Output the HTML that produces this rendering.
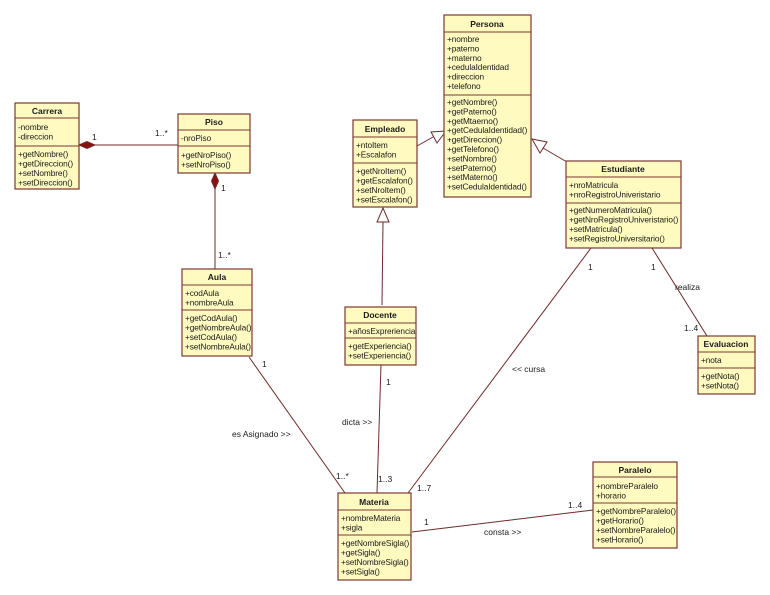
<!DOCTYPE html>
<html><head><meta charset="utf-8"><style>
body{margin:0;background:#fff;width:770px;height:595px;overflow:hidden}
svg{display:block}
text{font-family:"Liberation Sans",sans-serif;font-size:8.3px;fill:#1a1a1a;letter-spacing:-0.1px}
.t{font-weight:bold;font-size:8.5px;text-anchor:middle;letter-spacing:0}
.b{fill:#fffac0;stroke:#7a3a32;stroke-width:1.2}
.s{stroke:#7a3a32;stroke-width:1}
.l{stroke:#6e2a2a;stroke-width:1;fill:none}
.lb{font-size:8.5px;letter-spacing:0}
</style></head><body>
<svg width="770" height="595" viewBox="0 0 770 595">
<line class="l" x1="79" y1="145" x2="178" y2="145"/>
<polygon points="79,145 87,141.5 95,145 87,148.5" fill="#8b1010" stroke="#6e2a2a"/>
<line class="l" x1="215" y1="173" x2="215" y2="269"/>
<polygon points="215,173 218.5,181 215,189 211.5,181" fill="#8b1010" stroke="#6e2a2a"/>
<line class="l" x1="417" y1="146" x2="433" y2="137"/>
<polygon points="446,131 431,132 437,143" fill="#fff" stroke="#6e2a2a"/>
<line class="l" x1="567" y1="162" x2="543" y2="148"/>
<polygon points="532,139 547,142 540,153" fill="#fff" stroke="#6e2a2a"/>
<line class="l" x1="382" y1="305" x2="383" y2="222"/>
<polygon points="383,208 377,222 389,222" fill="#fff" stroke="#6e2a2a"/>
<line class="l" x1="381" y1="365" x2="377" y2="493"/>
<line class="l" x1="249" y1="357" x2="345" y2="493"/>
<line class="l" x1="591" y1="248" x2="408" y2="493"/>
<line class="l" x1="652" y1="248" x2="707" y2="336"/>
<line class="l" x1="412" y1="532" x2="593" y2="510"/>
<text class="lb" x="92" y="140">1</text>
<text class="lb" x="155" y="136">1..*</text>
<text class="lb" x="221" y="191">1</text>
<text class="lb" x="218" y="258">1..*</text>
<text class="lb" x="262" y="367">1</text>
<text class="lb" x="232" y="437">es Asignado &gt;&gt;</text>
<text class="lb" x="336" y="479">1..*</text>
<text class="lb" x="386" y="385">1</text>
<text class="lb" x="342" y="425">dicta &gt;&gt;</text>
<text class="lb" x="378" y="482">1..3</text>
<text class="lb" x="417" y="491">1..7</text>
<text class="lb" x="512" y="372">&lt;&lt; cursa</text>
<text class="lb" x="588" y="270">1</text>
<text class="lb" x="651" y="270">1</text>
<text class="lb" x="675" y="290">realiza</text>
<text class="lb" x="684" y="331">1..4</text>
<text class="lb" x="424" y="525">1</text>
<text class="lb" x="484" y="535">consta &gt;&gt;</text>
<text class="lb" x="568" y="508">1..4</text>

<rect class="b" x="15" y="103" width="64" height="86"/>
<line class="s" x1="15" y1="118" x2="79" y2="118"/><line class="s" x1="15" y1="146" x2="79" y2="146"/>
<text class="t" x="47" y="114">Carrera</text>
<text x="18" y="130">-nombre</text><text x="18" y="139.5">-direccion</text>
<text x="18" y="157">+getNombre()</text><text x="18" y="166.5">+getDireccion()</text><text x="18" y="176">+setNombre()</text><text x="18" y="185.5">+setDireccion()</text>
<rect class="b" x="178" y="114" width="72" height="59"/>
<line class="s" x1="178" y1="130" x2="250" y2="130"/><line class="s" x1="178" y1="146" x2="250" y2="146"/>
<text class="t" x="214" y="125">Piso</text>
<text x="181" y="141">-nroPiso</text>
<text x="181" y="158">+getNroPiso()</text><text x="181" y="167.5">+setNroPiso()</text>
<rect class="b" x="182" y="269" width="70" height="87"/>
<line class="s" x1="182" y1="285" x2="252" y2="285"/><line class="s" x1="182" y1="310" x2="252" y2="310"/>
<text class="t" x="217" y="280">Aula</text>
<text x="185" y="296">+codAula</text><text x="185" y="305.5">+nombreAula</text>
<text x="185" y="321">+getCodAula()</text><text x="185" y="330.5">+getNombreAula()</text><text x="185" y="340">+setCodAula()</text><text x="185" y="349.5">+setNombreAula()</text>
<rect class="b" x="444" y="15" width="87" height="182"/>
<line class="s" x1="444" y1="32" x2="531" y2="32"/><line class="s" x1="444" y1="95" x2="531" y2="95"/>
<text class="t" x="487" y="27">Persona</text>
<text x="447" y="42">+nombre</text><text x="447" y="51.4">+paterno</text><text x="447" y="60.8">+materno</text><text x="447" y="70.2">+cedulaIdentidad</text><text x="447" y="79.6">+direccion</text><text x="447" y="89">+telefono</text>
<text x="447" y="105">+getNombre()</text><text x="447" y="114.4">+getPaterno()</text><text x="447" y="123.8">+getMtaerno()</text><text x="447" y="133.2">+getCedulaIdentidad()</text><text x="447" y="142.6">+getDireccion()</text><text x="447" y="152">+getTelefono()</text><text x="447" y="161.4">+setNombre()</text><text x="447" y="170.8">+setPaterno()</text><text x="447" y="180.2">+setMaterno()</text><text x="447" y="189.6">+setCedulaIdentidad()</text>
<rect class="b" x="353" y="120" width="64" height="87"/>
<line class="s" x1="353" y1="137" x2="417" y2="137"/><line class="s" x1="353" y1="163" x2="417" y2="163"/>
<text class="t" x="385" y="132">Empleado</text>
<text x="356" y="148">+ntoItem</text><text x="356" y="157.5">+Escalafon</text>
<text x="356" y="174">+getNroItem()</text><text x="356" y="183.5">+getEscalafon()</text><text x="356" y="193">+setNroItem()</text><text x="356" y="202.5">+setEscalafon()</text>
<rect class="b" x="566" y="161" width="115" height="87"/>
<line class="s" x1="566" y1="177" x2="681" y2="177"/><line class="s" x1="566" y1="203" x2="681" y2="203"/>
<text class="t" x="623" y="172">Estudiante</text>
<text x="569" y="188">+nroMatricula</text><text x="569" y="197.5">+nroRegistroUniveristario</text>
<text x="569" y="213">+getNumeroMatricula()</text><text x="569" y="222.5">+getNroRegistroUniveristario()</text><text x="569" y="232">+setMatricula()</text><text x="569" y="241.5">+setRegistroUniversitario()</text>
<rect class="b" x="345" y="307" width="71" height="58"/>
<line class="s" x1="345" y1="323" x2="416" y2="323"/><line class="s" x1="345" y1="338" x2="416" y2="338"/>
<text class="t" x="380" y="318">Docente</text>
<text x="348" y="334">+añosExpreriencia</text>
<text x="348" y="349">+getExperiencia()</text><text x="348" y="358.5">+setExperiencia()</text>
<rect class="b" x="698" y="336" width="57" height="58"/>
<line class="s" x1="698" y1="352" x2="755" y2="352"/><line class="s" x1="698" y1="368" x2="755" y2="368"/>
<text class="t" x="726" y="347">Evaluacion</text>
<text x="701" y="363">+nota</text>
<text x="701" y="379">+getNota()</text><text x="701" y="388.5">+setNota()</text>
<rect class="b" x="593" y="462" width="84" height="86"/>
<line class="s" x1="593" y1="477" x2="677" y2="477"/><line class="s" x1="593" y1="503" x2="677" y2="503"/>
<text class="t" x="635" y="473">Paralelo</text>
<text x="596" y="489">+nombreParalelo</text><text x="596" y="498.5">+horario</text>
<text x="596" y="514">+getNombreParalelo()</text><text x="596" y="523.5">+getHorario()</text><text x="596" y="533">+setNombreParalelo()</text><text x="596" y="542.5">+setHorario()</text>
<rect class="b" x="338" y="493" width="73" height="87"/>
<line class="s" x1="338" y1="510" x2="411" y2="510"/><line class="s" x1="338" y1="535" x2="411" y2="535"/>
<text class="t" x="374" y="505">Materia</text>
<text x="341" y="521">+nombreMateria</text><text x="341" y="530.5">+sigla</text>
<text x="341" y="546">+getNombreSigla()</text><text x="341" y="555.5">+getSigla()</text><text x="341" y="565">+setNombreSigla()</text><text x="341" y="574.5">+setSigla()</text>
</svg>
</body></html>
